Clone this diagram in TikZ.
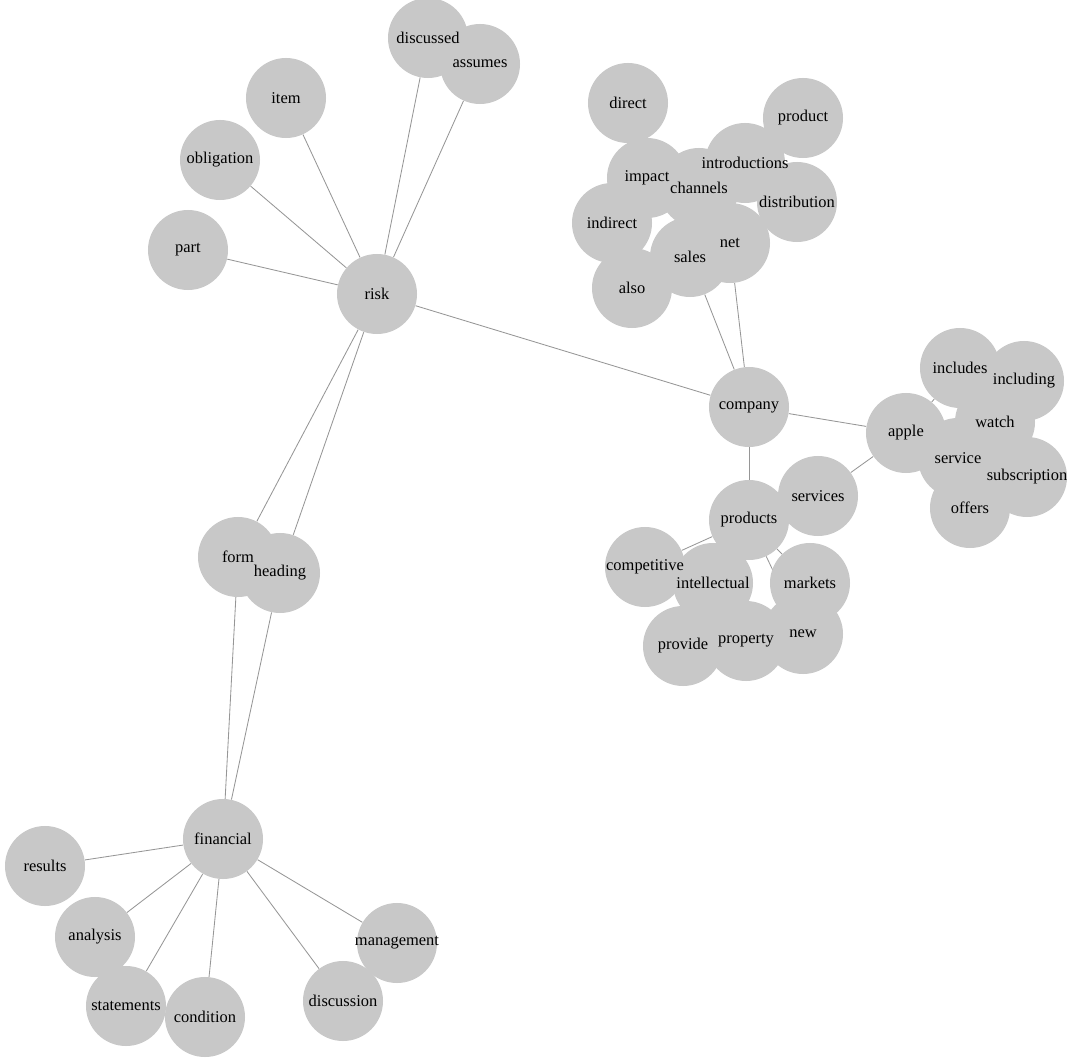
\documentclass[tikz,border=0pt]{standalone}
\usepackage{fontspec}
\setmainfont{Liberation Serif}
\usepackage{xcolor}
\definecolor{BubbleGray}{RGB}{200,200,200}
\definecolor{LinkGray}{RGB}{150,150,150}
\usetikzlibrary{backgrounds}
\tikzset{
  % Word bubble (no border)
  bubble/.style={
    circle, fill=BubbleGray,
    minimum size=2cm, inner sep=0pt
  },
  % Word label on top of all bubbles
  wlabel/.style={font=\fontsize{11.7}{14}\selectfont, inner sep=0pt},
  % Links between words
  link/.style={draw=LinkGray, line width=0.6pt},
}
\def\wordlist{%
  discussed/428/38, assumes/480/64, item/286/98, obligation/220/160,
  part/188/250, risk/377/294,
  direct/628/103, product/803/118, introductions/745/163, impact/647/178,
  channels/699/188, distribution/797/202, indirect/612/223, net/730/243,
  sales/690/257, also/632/288,
  company/749/407, apple/906/433, includes/960/368, including/1024/381,
  watch/995/422, service/958/458, subscription/1027/477, offers/970/508,
  services/818/496, products/749/520, competitive/645/567,
  intellectual/713/583, markets/810/583, provide/683/646,
  property/746/641, new/803/634,
  form/238/557, heading/280/573,
  financial/223/839, results/45/866, analysis/95/937, statements/126/1006,
  condition/205/1017, discussion/343/1001, management/397/943}

\begin{document}
\begin{tikzpicture}[x=0.025cm, y=-0.025cm]
  \useasboundingbox (0,0) rectangle (1080,1063);

  % Bubbles
  \foreach \w/\x/\y in \wordlist
    \node[bubble] (\w) at (\x,\y) {};

  % Labels
  \foreach \w/\x/\y in \wordlist
    \node[wlabel] at (\w) {\w};

  % Links
  \begin{scope}[on background layer]
    \foreach \a/\b in {risk/part, risk/obligation, risk/item, risk/discussed,
        risk/assumes, risk/company, risk/form, risk/heading,
        company/sales, company/net, company/apple, company/products,
        apple/services, apple/includes, apple/watch,
        products/competitive, products/markets, products/new,
        form/financial, heading/financial,
        financial/results, financial/analysis, financial/statements,
        financial/condition, financial/discussion, financial/management}
      \draw[link] (\a) -- (\b);
  \end{scope}
\end{tikzpicture}
\end{document}
